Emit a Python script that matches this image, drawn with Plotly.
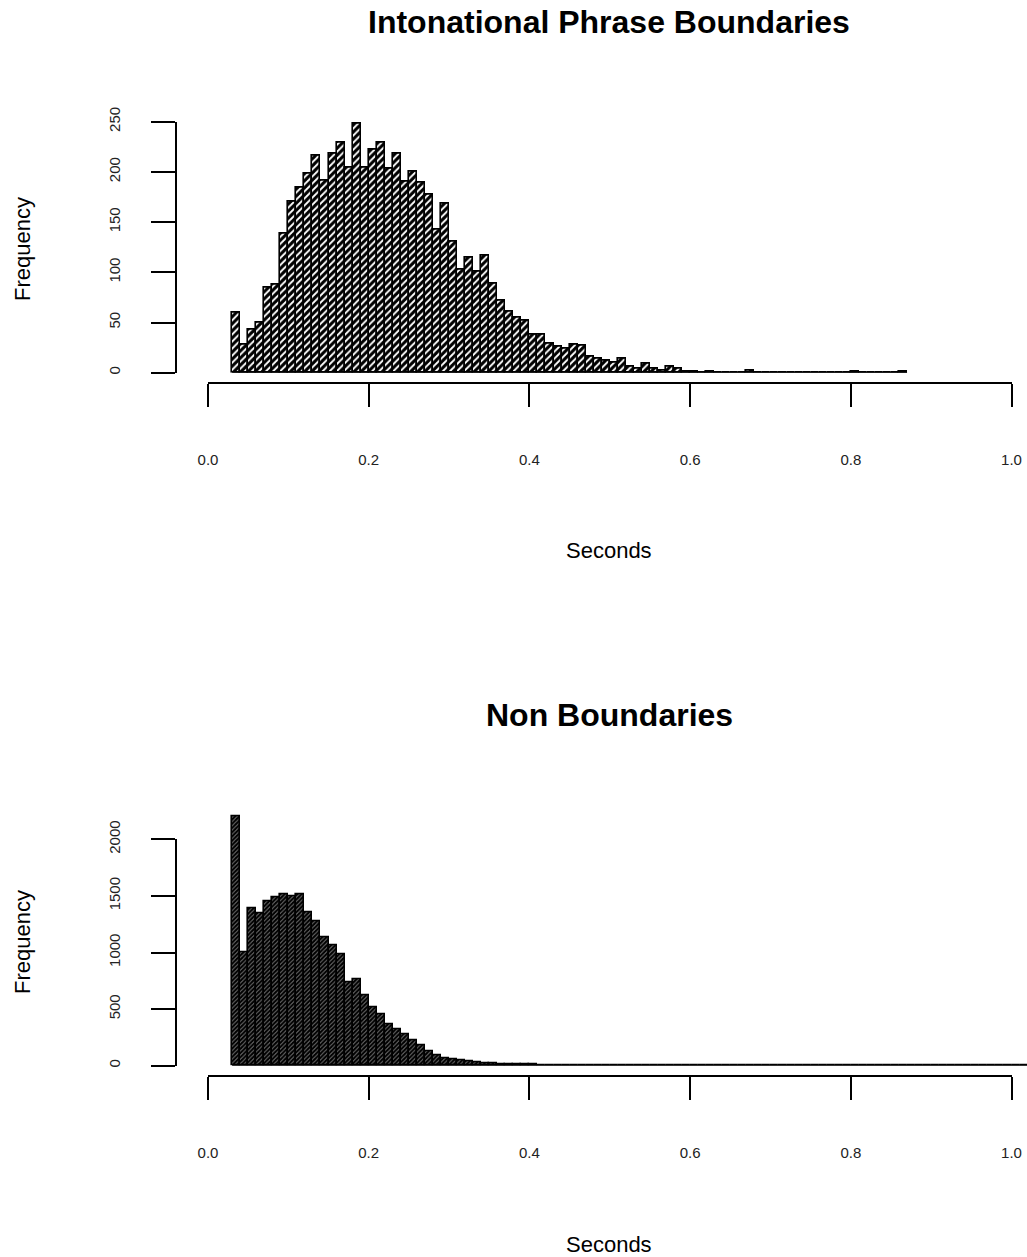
import numpy as np
import plotly.graph_objects as go

# ---------------- data ----------------
bin_width = 0.01

# Intonational phrase boundaries: counts for bins starting at 0.03, 0.04, ... 0.86
ip_counts = [60, 28, 43, 50, 85, 88, 138, 170, 184, 198,
             216, 191, 218, 229, 204, 248, 204, 222, 229, 203,
             218, 190, 200, 189, 177, 142, 168, 130, 103, 115,
             101, 117, 89, 72, 61, 55, 52, 38, 38, 29,
             26, 24, 28, 27, 16, 14, 12, 10, 14, 6,
             4, 9, 4, 2, 6, 4, 1, 1, 0, 1,
             0, 0, 0, 0, 2, 0, 0, 0, 0, 0,
             0, 0, 0, 0, 0, 0, 0, 1, 0, 0,
             0, 0, 0, 1]
ip_start = 0.03

# Non boundaries: counts for bins starting at 0.03, 0.04, ... 1.01
nb_counts = [2200, 1005, 1390, 1350, 1450, 1490, 1515, 1500, 1510, 1355,
             1275, 1130, 1060, 980, 740, 760, 620, 520, 455, 365,
             320, 275, 225, 178, 127, 90, 68, 53, 44, 38,
             26, 22, 20, 15, 13, 10, 9, 8, 6, 5,
             5, 4, 4, 3, 3, 3, 2, 2, 2, 2,
             1, 2, 1, 1, 1, 2, 1, 1, 1, 1,
             1, 1, 0, 1, 1, 1, 0, 1, 1, 0,
             1, 1, 0, 1, 0, 1, 1, 0, 1, 0,
             1, 0, 1, 0, 1, 1, 0, 1, 0, 1,
             0, 1, 0, 1, 0, 1, 0, 1, 1]
nb_start = 0.03

x_ticks = [0.0, 0.2, 0.4, 0.6, 0.8, 1.0]
x_ticklabels = ["0.0", "0.2", "0.4", "0.6", "0.8", "1.0"]
ip_yticks = [0, 50, 100, 150, 200, 250]
nb_yticks = [0, 500, 1000, 1500, 2000]

titles = ["Intonational Phrase Boundaries", "Non Boundaries"]
xlabel = "Seconds"
ylabel = "Frequency"

# ---------------- geometry (pixels) ----------------
W, H = 1027, 1257
X0, X1 = 208.0, 1011.5          # pixel of x=0 and x=1
def fx(p): return p / W
def fy(p): return 1 - p / H

T_Y0, T_YTOP = 372.7, 121.7      # top: 0 and 250
T_XAX = 382.7                    # top x-axis line
B_Y0, B_YTOP = 1065.7, 839.3     # bottom: 0 and 2000
B_XAX = 1076.0
YAX_X = 176.0

ip_edges = np.round(ip_start + bin_width * np.arange(len(ip_counts)), 2)
nb_edges = np.round(nb_start + bin_width * np.arange(len(nb_counts)), 2)

FONT = "Liberation Sans, Arial, Helvetica, sans-serif"

fig = go.Figure()

# top histogram
fig.add_trace(go.Bar(
    x=ip_edges, y=ip_counts, width=bin_width, offset=0,
    marker=dict(color="white",
                line=dict(color="black", width=1.6),
                pattern=dict(shape="/", fgcolor="black", bgcolor="white",
                             size=5, solidity=0.62)),
    xaxis="x", yaxis="y", showlegend=False, hoverinfo="skip"))
fig.add_trace(go.Scatter(
    x=[ip_edges[0], ip_edges[-1] + bin_width], y=[0, 0], mode="lines",
    line=dict(color="black", width=1.6),
    xaxis="x", yaxis="y", showlegend=False, hoverinfo="skip"))

# bottom histogram
fig.add_trace(go.Bar(
    x=nb_edges, y=nb_counts, width=bin_width, offset=0,
    marker=dict(color="#444444",
                line=dict(color="black", width=1.6),
                pattern=dict(shape="/", fgcolor="black", bgcolor="#777777",
                             size=3, solidity=0.7)),
    xaxis="x2", yaxis="y2", showlegend=False, hoverinfo="skip"))
fig.add_trace(go.Scatter(
    x=[nb_edges[0], nb_edges[-1] + bin_width], y=[0, 0], mode="lines",
    line=dict(color="black", width=2.5),
    xaxis="x2", yaxis="y2", showlegend=False, hoverinfo="skip"))
# display axes for bottom panel
fig.add_trace(go.Scatter(x=[], y=[], xaxis="x3", yaxis="y3",
                         showlegend=False, hoverinfo="skip"))

tickfont = dict(family=FONT, size=15, color="#222222")

xdisp = dict(range=[0, 1], tickvals=x_ticks, ticktext=x_ticklabels,
             showline=True, linecolor="black", linewidth=2,
             ticks="outside", ticklen=23, tickwidth=2, tickcolor="black",
             showgrid=False, zeroline=False, tickfont=tickfont,
             ticklabelstandoff=40, fixedrange=True, automargin=False)

ydisp = dict(showline=True, linecolor="black", linewidth=2,
             ticks="outside", ticklen=24, tickwidth=2, tickcolor="black",
             showgrid=False, zeroline=False, tickfont=tickfont,
             tickangle=-90, ticklabelstandoff=25, fixedrange=True, automargin=False)

b_scale = (B_Y0 - B_YTOP) / 2000.0
b_top_val = 2300
b_top_px = B_Y0 - b_top_val * b_scale
x2_end = (W - X0) / (X1 - X0)

fig.update_layout(
    template="none",
    width=W, height=H,
    margin=dict(l=0, r=0, t=0, b=0, pad=0, autoexpand=False),
    paper_bgcolor="white", plot_bgcolor="rgba(0,0,0,0)",
    bargap=0,
    xaxis=dict(domain=[fx(X0), fx(X1)], anchor="free", position=fy(T_XAX), **xdisp),
    yaxis=dict(domain=[fy(T_Y0), fy(T_YTOP)], range=[0, 250], tickvals=ip_yticks,
               anchor="free", position=fx(YAX_X), **ydisp),
    xaxis2=dict(domain=[fx(X0), 1.0], range=[0, x2_end], anchor="y2",
                visible=False, fixedrange=True, automargin=False),
    yaxis2=dict(domain=[fy(B_Y0), fy(b_top_px)], range=[0, b_top_val], anchor="x2",
                visible=False, fixedrange=True, automargin=False),
    xaxis3=dict(domain=[fx(X0), fx(X1)], anchor="free", position=fy(B_XAX), **xdisp),
    yaxis3=dict(domain=[fy(B_Y0), fy(B_YTOP)], range=[0, 2000], tickvals=nb_yticks,
                anchor="free", position=fx(YAX_X), **ydisp),
)

ann = []
title_font = dict(family=FONT, size=32, color="black")
lab_font = dict(family=FONT, size=22, color="black")
for t, yc in zip(titles, [22, 715]):
    ann.append(dict(text=f"<b>{t}</b>", x=fx(609), y=fy(yc), xref="paper", yref="paper",
                    xanchor="center", yanchor="middle", showarrow=False, font=title_font))
for yc in [550, 1244]:
    ann.append(dict(text=xlabel, x=fx(609), y=fy(yc), xref="paper", yref="paper",
                    xanchor="center", yanchor="middle", showarrow=False, font=lab_font))
for yc in [249, 942]:
    ann.append(dict(text=ylabel, x=fx(22), y=fy(yc), xref="paper", yref="paper",
                    xanchor="center", yanchor="middle", showarrow=False, font=lab_font,
                    textangle=-90))
fig.update_layout(annotations=ann)

fig.write_html("out.html")
